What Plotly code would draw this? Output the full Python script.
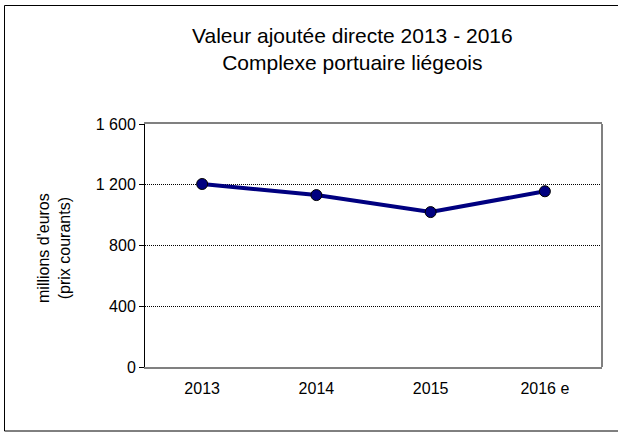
import plotly.graph_objects as go

categories = ["2013", "2014", "2015", "2016 e"]
values = [1205, 1132, 1020, 1157]
y_tickvals = [0, 400, 800, 1200, 1600]
y_ticktext = ["0", "400", "800", "1 200", "1 600"]

W, H = 618, 434
L, R, T, B = 145, 16, 124, 67
pw, ph = W - L - R, H - T - B

def px_x(p):
    return (p - L) / pw

def px_y(p):
    return (H - B - p) / ph

FONT = "Liberation Sans, Arial, sans-serif"

fig = go.Figure()
fig.add_trace(go.Scatter(
    x=categories, y=values, mode="lines+markers",
    line=dict(color="#000080", width=4),
    marker=dict(size=11, color="#000080", line=dict(color="#000000", width=1)),
    showlegend=False, hoverinfo="skip",
))

fig.update_layout(
    width=W, height=H,
    margin=dict(l=L, r=R, t=T, b=B),
    paper_bgcolor="white", plot_bgcolor="white",
    font=dict(family=FONT, size=16, color="black"),
    xaxis=dict(
        type="category", range=[-0.5, 3.5],
        showline=True, linecolor="#808080", linewidth=2, mirror=True,
        showgrid=False, ticks="", zeroline=False,
        tickfont=dict(size=16), ticklabelstandoff=6,
    ),
    yaxis=dict(
        range=[0, 1600], tickvals=y_tickvals, ticktext=y_ticktext,
        showline=True, linecolor="black", linewidth=1,
        ticks="outside", ticklen=5, tickcolor="black",
        showgrid=True, gridcolor="black", gridwidth=1, griddash="1px,1px",
        zeroline=False, tickfont=dict(size=16),
    ),
    annotations=[
        dict(text="Valeur ajoutée directe 2013 - 2016<br>Complexe portuaire liégeois",
             x=px_x(352), y=px_y(49.5), xref="paper", yref="paper",
             xanchor="center", yanchor="middle", showarrow=False,
             font=dict(size=21, family=FONT)),
        dict(text="millions d'euros<br>(prix courants)",
             x=px_x(54), y=px_y(248), xref="paper", yref="paper",
             xanchor="center", yanchor="middle", showarrow=False, textangle=-90,
             font=dict(size=16, family=FONT)),
    ],
    shapes=[
        dict(type="line", xref="paper", yref="paper", x0=1, x1=1, y0=0, y1=1,
             line=dict(color="#808080", width=2)),
        dict(type="rect", xref="paper", yref="paper",
             x0=px_x(4.5), x1=px_x(625), y0=px_y(431), y1=px_y(5.5),
             line=dict(color="black", width=1), layer="below"),
    ],
)

fig.write_html("out.html", config={"displayModeBar": False},
               post_script="document.body.style.margin='0';document.body.style.overflow='hidden';")
